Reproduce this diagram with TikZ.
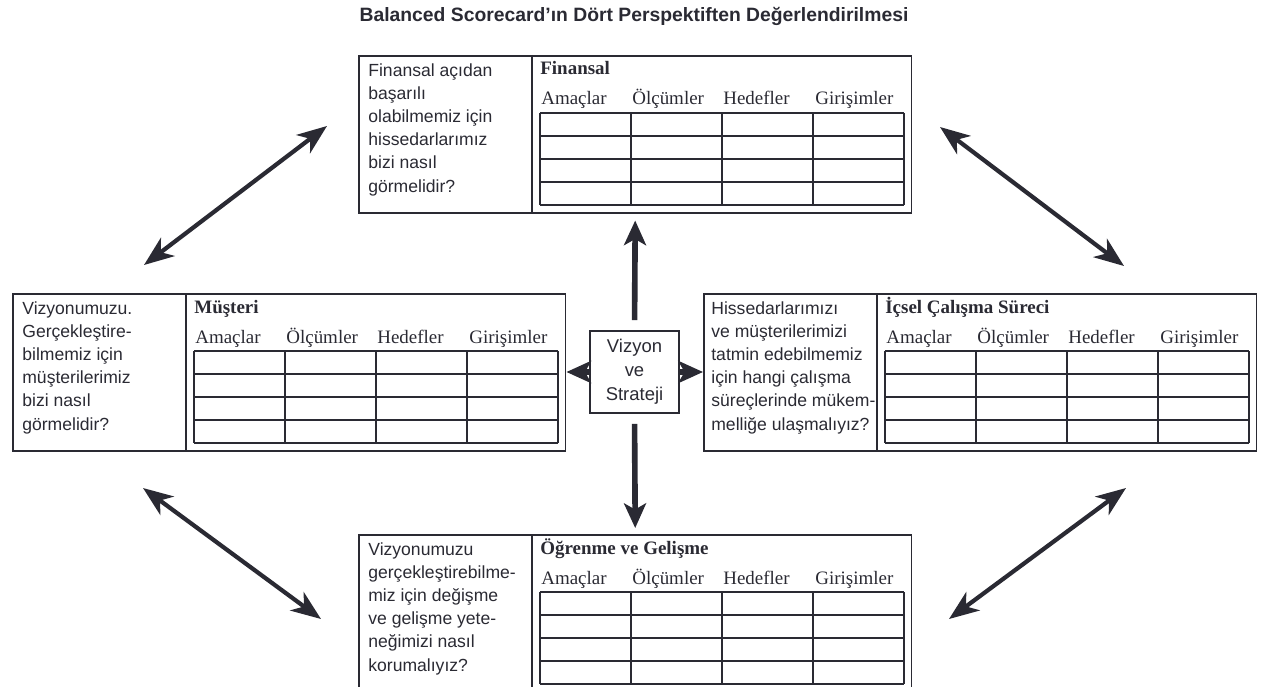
\documentclass[tikz,border=0pt]{standalone}
\usepackage{fontspec}
\setmainfont{Liberation Serif}
\setsansfont{Liberation Sans}
\usetikzlibrary{arrows.meta}
\usetikzlibrary{positioning}

\definecolor{ink}{HTML}{2A2A33}

\begin{document}
\begin{tikzpicture}[x=0.02cm,y=-0.02cm,
	every node/.style={text=ink},
	persp box/.style={draw=ink,line width=0.9pt,minimum width=11.06cm,minimum height=3.14cm,anchor=north west,inner sep=0pt},
	question/.style={anchor=north west,align=left,inner sep=0pt,font=\sffamily\fontsize{10}{13.2}\selectfont},
	heading/.style={anchor=base west,inner sep=0pt,font=\bfseries\fontsize{10.8}{13}\selectfont},
	column/.style={anchor=base west,inner sep=0pt,font=\fontsize{10.8}{13}\selectfont},
	cell/.style={draw=ink,line width=0.8pt},
	link/.style={->,draw=ink,line width=3.2pt,>={Stealth[length=14pt,width=12.5pt,inset=3.5pt]}},
	twoway/.style={<->,draw=ink,line width=2.4pt,>={Stealth[length=17pt,width=13pt,inset=5pt]}}]
	
	\useasboundingbox (0,0) rectangle (1267,686);
	\clip (0,0) rectangle (1267,686);
	
	\node[font=\sffamily\bfseries\fontsize{11}{13}\selectfont] (title) at (634,16) {Balanced Scorecard’ın Dört Perspektiften Değerlendirilmesi};
	
	% the four perspective boxes with their empty tables
	\foreach \n/\x/\y in {fin/358/55,mus/12/293,ics/703/293,ogr/358/534}{
		\node[persp box] (\n) at (\x,\y) {};
		\begin{scope}[shift={(\n.north west)}]
			\draw[cell,line width=0.9pt] (174,0) -- (174,157);
			\foreach \c/\t in {0/Amaçlar,91/Ölçümler,182/Hedefler,274/Girişimler}
				\node[column] (\n-\c) at (183+\c,50) {\t};
			\foreach \r in {58,81,104,127,150}
				\draw[cell] (182,\r) -- (546,\r);
			\foreach \c in {182,273,364,455,546}
				\draw[cell] (\c,58) -- (\c,150);
		\end{scope}
	}
	
	\node[heading] (finh) at ([shift={(182,20)}]fin.north west) {Finansal};
	\node[heading] (mush) at ([shift={(182,20)}]mus.north west) {Müşteri};
	\node[heading] (icsh) at ([shift={(182,20)}]ics.north west) {İçsel Çalışma Süreci};
	\node[heading] (ogrh) at ([shift={(182,20)}]ogr.north west) {Öğrenme ve Gelişme};
	
	\node[question] (finq) at ([shift={(10,8)}]fin.north west) {Finansal açıdan\\başarılı\\olabilmemiz için\\hissedarlarımız\\bizi nasıl\\görmelidir?};
	\node[question] (musq) at ([shift={(10,8)}]mus.north west) {Vizyonumuzu.\\Gerçekleştire-\\bilmemiz için\\müşterilerimiz\\bizi nasıl\\görmelidir?};
	\node[question] (icsq) at ([shift={(8,8)}]ics.north west) {Hissedarlarımızı\\ve müşterilerimizi\\tatmin edebilmemiz\\için hangi çalışma\\süreçlerinde mükem-\\melliğe ulaşmalıyız?};
	\node[question] (ogrq) at ([shift={(10,8)}]ogr.north west) {Vizyonumuzu\\gerçekleştirebilme-\\miz için değişme\\ve gelişme yete-\\neğimizi nasıl\\korumalıyız?};
	
	\node[draw=ink,line width=0.9pt,minimum width=1.78cm,minimum height=1.64cm,inner sep=0pt,
		align=center,font=\sffamily\fontsize{10.5}{13.6}\selectfont] (vs) at (634.5,372) {Vizyon\\ve\\Strateji};
	
	\draw[link,shorten <=0.2cm,shorten >=0.14cm] (vs.north) -- (fin.south);
	\draw[link,shorten <=0.2cm,shorten >=0.12cm] (vs.south) -- (ogr.north);
	\draw[link] (vs.west) -- (vs.west -| mus.east);
	\draw[link] (vs.east) -- (vs.east -| ics.west);
	
	% free ends of the diagonal arrows
	\coordinate (tl1) at (144,265);
	\coordinate (tl2) at (327,126);
	\coordinate (tr1) at (940,127);
	\coordinate (tr2) at (1124,266);
	\coordinate (bl1) at (143,488);
	\coordinate (bl2) at (321,619);
	\coordinate (br1) at (949,619);
	\coordinate (br2) at (1126,488);
	
	\draw[twoway] (tl1) -- (tl2);
	\draw[twoway] (tr1) -- (tr2);
	\draw[twoway] (bl1) -- (bl2);
	\draw[twoway] (br1) -- (br2);
\end{tikzpicture}
\end{document}
